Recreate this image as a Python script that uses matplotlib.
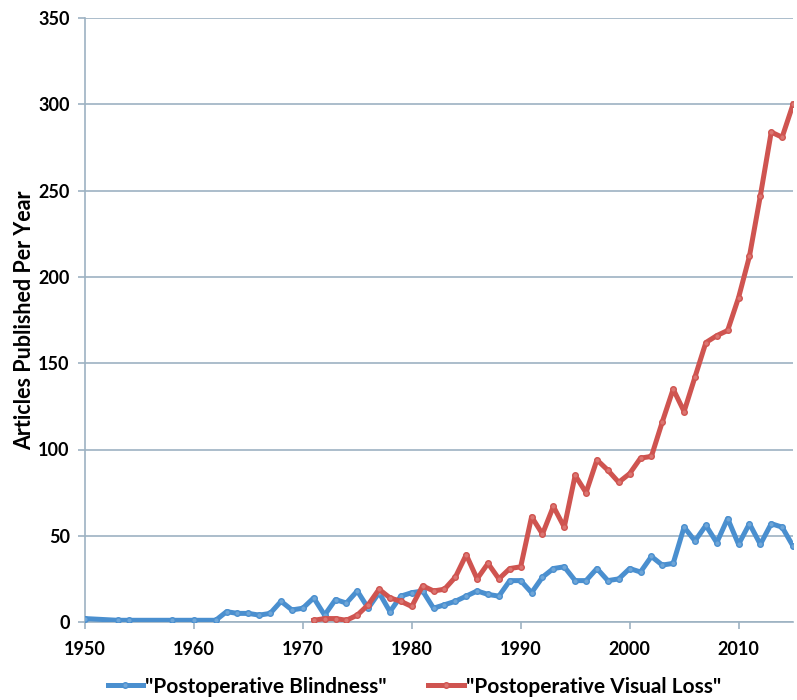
import matplotlib
matplotlib.use("Agg")
import matplotlib.pyplot as plt

# data
blind_years = [1950, 1953, 1954, 1958, 1960, 1962] + list(range(1963, 2016))
blind_counts = [2, 1, 1, 1, 1, 1,
                6, 5, 5, 4, 5, 12, 7, 8, 14, 4, 13, 11, 18, 8, 17, 6, 15, 17,
                18, 8, 10, 12, 15, 18, 16, 15, 24, 24, 17, 26, 31, 32, 24, 24,
                31, 24, 25, 31, 29, 38, 33, 34, 55, 47, 56, 46, 60, 45, 57, 45,
                57, 55, 44]

loss_years = list(range(1971, 2016))
loss_counts = [1, 2, 2, 1, 4, 10, 19, 14, 12, 9, 21, 18, 19, 26, 39, 25, 34,
               25, 31, 32, 61, 51, 67, 55, 85, 75, 94, 88, 81, 86, 95, 96, 116,
               135, 122, 142, 162, 166, 169, 188, 212, 247, 284, 281, 300]

y_ticks = [0, 50, 100, 150, 200, 250, 300, 350]
x_ticks = [1950, 1960, 1970, 1980, 1990, 2000, 2010]

blue = "#4A8FCF"
red = "#CF5450"
grid_col = "#9DB2C2"

plt.rcParams['font.family'] = ['Lato', 'DejaVu Sans']
plt.rcParams['font.weight'] = 'bold'

fig = plt.figure(figsize=(7.97, 7.0), dpi=100)
ax = fig.add_axes([0.1066, 0.1114, 0.8884, 0.8626])

ax.plot(blind_years, blind_counts, color=blue, lw=3.6, marker='o', ms=4,
        mfc="#6FA6D8", mec=blue, label='"Postoperative Blindness"', zorder=3)
ax.plot(loss_years, loss_counts, color=red, lw=3.6, marker='o', ms=4,
        mfc="#DC7672", mec=red, label='"Postoperative Visual Loss"', zorder=3)

ax.set_xlim(1950, 2015)
ax.set_ylim(0, 350)
ax.set_xticks(x_ticks)
ax.set_yticks(y_ticks)
ax.tick_params(axis='both', labelsize=13, colors="#000000", length=5,
               width=1.2, pad=6)
ax.tick_params(axis='x', pad=9)
ax.tick_params(axis='both', color=grid_col)
ax.yaxis.grid(True, color=grid_col, lw=1.2)
ax.set_axisbelow(True)

for s in ['top', 'right']:
    ax.spines[s].set_visible(False)
ax.spines['left'].set_color(grid_col)
ax.spines['bottom'].set_color(grid_col)
ax.spines['left'].set_linewidth(1.2)
ax.spines['bottom'].set_linewidth(1.2)

ax.set_ylabel("Articles Published Per Year", fontsize=15.5, fontweight='bold',
              labelpad=2)

fig.legend(loc='lower center', bbox_to_anchor=(0.52, -0.022), ncol=2,
           frameon=False, fontsize=15, handlelength=1.7, handletextpad=0.1,
           columnspacing=2.0, numpoints=1)

fig.savefig("out.png", dpi=100)
